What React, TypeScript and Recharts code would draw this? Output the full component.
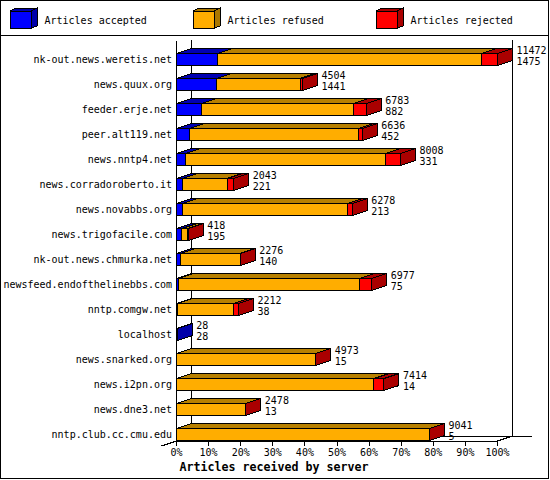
import React from "react";
import { BarChart, Bar, XAxis, YAxis, Legend, usePlotArea } from "recharts";

const servers = [
  "nk-out.news.weretis.net", "news.quux.org", "feeder.erje.net", "peer.alt119.net",
  "news.nntp4.net", "news.corradoroberto.it", "news.novabbs.org", "news.trigofacile.com",
  "nk-out.news.chmurka.net", "newsfeed.endofthelinebbs.com", "nntp.comgw.net", "localhost",
  "news.snarked.org", "news.i2pn.org", "news.dne3.net", "nntp.club.cc.cmu.edu",
];
const totals = [11472, 4504, 6783, 6636, 8008, 2043, 6278, 418, 2276, 6977, 2212, 28, 4973, 7414, 2478, 9041];
const accepted = [1475, 1441, 882, 452, 331, 221, 213, 195, 140, 75, 38, 28, 15, 14, 13, 5];
const refused = [9436, 2973, 5458, 6066, 7130, 1584, 5910, 213, 2131, 6462, 1994, 0, 4953, 7043, 2460, 9031];
const rejected = [561, 90, 443, 118, 547, 238, 155, 10, 5, 440, 180, 0, 5, 357, 5, 5];
const percentTicks = [0, 10, 20, 30, 40, 50, 60, 70, 80, 90, 100];
const axisMax = 11472;

const rows = servers.map((server, i) => ({
  server,
  total: totals[i],
  accepted: accepted[i],
  refused: refused[i],
  rejected: rejected[i],
}));

const MONO = "'DejaVu Sans Mono', monospace";
const DX = 15;
const DY = 5;
const BAR_SHIFT = 5.5;

const COLORS: Record<string, { front: string; top: string; side: string }> = {
  "#0000ff": { front: "#0000ff", top: "#0000b3", side: "#0000aa" },
  "#ffad00": { front: "#ffad00", top: "#b88000", side: "#aa7700" },
  "#ff0000": { front: "#ff0000", top: "#aa0000", side: "#aa0000" },
};

function Block({ x, y, width, height, fill }: any) {
  const c = COLORS[fill];
  const yy = y + BAR_SHIFT;
  return (
    <g stroke="#000" strokeWidth={1} shapeRendering="crispEdges" strokeLinejoin="miter">
      <polygon fill={c.top} points={`${x},${yy} ${x + DX},${yy - DY} ${x + width + DX},${yy - DY} ${x + width},${yy}`} />
      <polygon fill={c.side} points={`${x + width},${yy} ${x + width + DX},${yy - DY} ${x + width + DX},${yy + height - DY} ${x + width},${yy + height}`} />
      <rect x={x} y={yy} width={width} height={height} fill={c.front} />
    </g>
  );
}

function SegmentShape(props: any) {
  if (!(props.value?.[1] - props.value?.[0] > 0) && !(props.width > 0)) return <g />;
  return <Block {...props} />;
}

function LastShape(props: any) {
  const { x, y, width, payload } = props;
  const lx = x + width + DX + 4;
  const cy = y + BAR_SHIFT + 6;
  return (
    <g>
      {width > 0 ? <Block {...props} /> : null}
      <text x={lx} y={cy - 9} fontFamily={MONO} fontSize={10} dominantBaseline="central" fill="#000">{payload.total}</text>
      <text x={lx} y={cy + 2} fontFamily={MONO} fontSize={10} dominantBaseline="central" fill="#000">{payload.accepted}</text>
    </g>
  );
}

function BackWall() {
  const p = usePlotArea();
  if (!p) return null;
  const l = p.x;
  const r = p.x + p.width;
  const b = p.y + p.height;
  const t = p.y - 1;
  return (
    <g stroke="#000" strokeWidth={1} fill="none">
      <g shapeRendering="crispEdges">
        <line x1={l + DX} y1={t} x2={l + DX} y2={b - DY} />
        <line x1={r + DX} y1={t} x2={r + DX} y2={b - DY} />
        <line x1={l + DX} y1={b - DY} x2={r + 34} y2={b - DY} />
      </g>
      <line x1={l - DX} y1={b + DY} x2={l + DX} y2={b - DY} shapeRendering="crispEdges" />
      <line x1={r} y1={b} x2={r + DX} y2={b - DY} shapeRendering="crispEdges" />
    </g>
  );
}

function YTick({ x, y, payload }: any) {
  return (
    <text x={x + 3.5} y={y + BAR_SHIFT} textAnchor="end" dominantBaseline="central" fontFamily={MONO} fontSize={10} fill="#000">
      {payload.value}
    </text>
  );
}

function LegendContent({ payload }: any) {
  return (
    <div style={{ position: "relative", width: 550, height: 0 }}>
      {(payload || []).map((item: any, i: number) => {
        const c = COLORS[item.color];
        const left = 10 + i * 183;
        return (
          <React.Fragment key={item.value}>
            <svg width={30} height={24} style={{ position: "absolute", left: left - 1, top: 6 }}>
              <g stroke="#000" strokeWidth={1} shapeRendering="crispEdges">
                <polygon fill={c.side} points="22,5 28,2 28,20 22,22" />
                <polygon fill={c.side} points="1,5 7,2 28,2 22,5" />
                <rect x={1} y={5} width={21} height={17} fill={c.front} />
              </g>
            </svg>
            <span style={{ position: "absolute", left: left + 34.5, top: 15, fontFamily: MONO, fontSize: 10, lineHeight: "12px", whiteSpace: "pre", color: "#000" }}>
              {item.value}
            </span>
          </React.Fragment>
        );
      })}
    </div>
  );
}

export default function App() {
  const ticks = percentTicks.map((p) => (p / 100) * axisMax);
  return (
    <div style={{ position: "absolute", left: 0, top: 0, width: 550, height: 480, background: "#fff" }}>
      <BarChart
        width={550}
        height={480}
        data={rows}
        layout="vertical"
        barSize={12}
        margin={{ top: 41, right: 52.5, bottom: 0, left: 0 }}
      >
        <BackWall />
        <XAxis
          type="number"
          domain={[0, axisMax]}
          ticks={ticks}
          interval={0}
          height={39}
          tickSize={5}
          tickMargin={3}
          stroke="#000"
          axisLine={{ shapeRendering: "crispEdges" }}
          tickLine={{ shapeRendering: "crispEdges" }}
          tick={{ fontFamily: MONO, fontSize: 10, fill: "#000" }}
          tickFormatter={(v: number) => `${Math.round((v / axisMax) * 100)}%`}
          label={{
            value: "Articles received by server",
            position: "insideBottom",
            dx: -63,
            dy: -4,
            style: { fontFamily: MONO, fontSize: 11.65, fontWeight: "bold", fill: "#000" },
          }}
        />
        <YAxis
          type="category"
          dataKey="server"
          width={176.5}
          tickLine={false}
          stroke="#000"
          axisLine={{ shapeRendering: "crispEdges" }}
          tick={<YTick />}
          interval={0}
        />
        <Legend
          verticalAlign="top"
          content={<LegendContent />}
          wrapperStyle={{ position: "absolute", left: 0, top: 0, width: 550, height: 0 }}
        />
        <Bar dataKey="accepted" name="Articles accepted" stackId="a" fill="#0000ff" shape={<SegmentShape />} isAnimationActive={false} />
        <Bar dataKey="refused" name="Articles refused" stackId="a" fill="#ffad00" shape={<SegmentShape />} isAnimationActive={false} />
        <Bar dataKey="rejected" name="Articles rejected" stackId="a" fill="#ff0000" shape={<LastShape />} isAnimationActive={false} />
      </BarChart>
      <div style={{ position: "absolute", left: 0, top: 0, width: 549, height: 479, boxSizing: "border-box", border: "1px solid #000", pointerEvents: "none" }} />
      <div style={{ position: "absolute", left: 0, top: 35, width: 549, height: 1, background: "#000" }} />
    </div>
  );
}
